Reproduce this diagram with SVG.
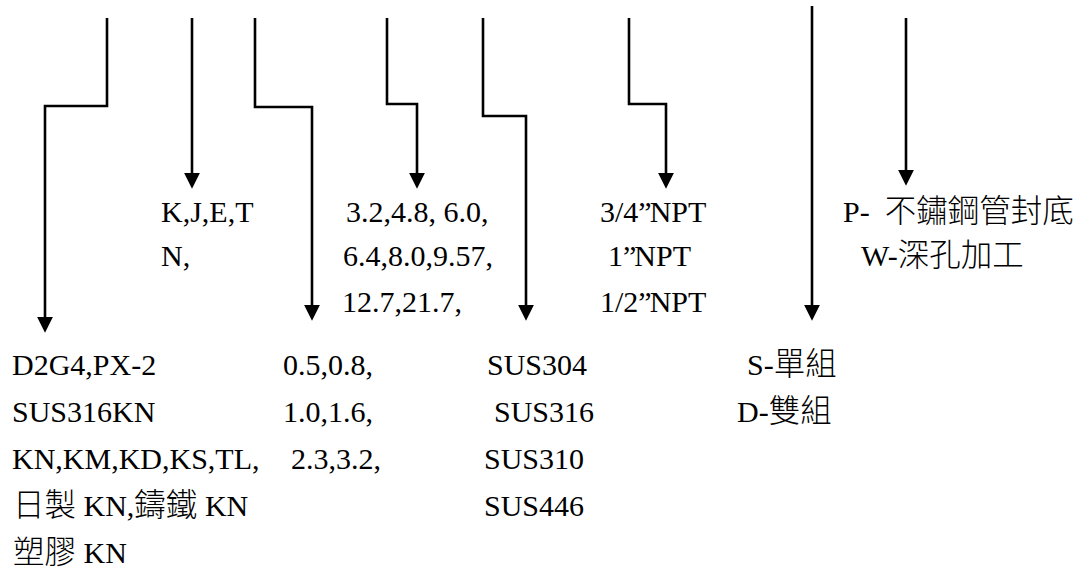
<svg xmlns="http://www.w3.org/2000/svg" width="1084" height="574" viewBox="0 0 1084 574">
<style>
  .t { font-family: "Liberation Serif", "Noto Sans CJK TC", serif; font-size: 30px; fill: #000; }
  .k { font-family: "Noto Sans CJK TC", "Liberation Serif", sans-serif; font-size: 31.5px; font-weight: 300; }
  .q { letter-spacing: -2px; }
  .c { fill: none; stroke: #000; stroke-width: 2.6; stroke-linejoin: miter; }
</style>
<defs>
  <marker id="ah" markerUnits="userSpaceOnUse" markerWidth="16" markerHeight="16" refX="3" refY="7.5" orient="auto" viewBox="0 0 15 15">
    <path d="M0,0 L15,7.5 L0,15 Z" fill="#000"/>
  </marker>
</defs>
<rect width="1084" height="574" fill="#fff"/>
<g id="connectors">
  <path class="c" d="M107,18 V106 H45 V320" marker-end="url(#ah)"/>
  <path class="c" d="M192,18 V176" marker-end="url(#ah)"/>
  <path class="c" d="M255,18 V107 H312 V308" marker-end="url(#ah)"/>
  <path class="c" d="M387,18 V104 H417 V176" marker-end="url(#ah)"/>
  <path class="c" d="M483,18 V116 H526 V308" marker-end="url(#ah)"/>
  <path class="c" d="M629,18 V104 H666 V176" marker-end="url(#ah)"/>
  <path class="c" d="M812,6 V308" marker-end="url(#ah)"/>
  <path class="c" d="M906,18 V173" marker-end="url(#ah)"/>
</g>
<g id="material">
  <text class="t" x="12" y="375">D2G4,PX-2</text>
  <text class="t" x="12" y="422">SUS316KN</text>
  <text class="t" x="12" y="469">KN,KM,KD,KS,TL,</text>
  <text class="t" x="13" y="516"><tspan class="k">日製</tspan> KN,<tspan class="k">鑄鐵</tspan> KN</text>
  <text class="t" x="13" y="563"><tspan class="k">塑膠</tspan> KN</text>
</g>
<g id="type">
  <text class="t" x="161" y="222">K,J,E,T</text>
  <text class="t" x="161" y="266">N,</text>
</g>
<g id="wire">
  <text class="t" x="283" y="375">0.5,0.8,</text>
  <text class="t" x="283" y="422">1.0,1.6,</text>
  <text class="t" x="291" y="469">2.3,3.2,</text>
</g>
<g id="diameter">
  <text class="t" x="346" y="222">3.2,4.8, 6.0,</text>
  <text class="t" x="343" y="266">6.4,8.0,9.57,</text>
  <text class="t" x="342" y="312">12.7,21.7,</text>
</g>
<g id="sheath">
  <text class="t" x="487" y="375">SUS304</text>
  <text class="t" x="494" y="422">SUS316</text>
  <text class="t" x="484" y="469">SUS310</text>
  <text class="t" x="484" y="516">SUS446</text>
</g>
<g id="thread">
  <text class="t" x="600" y="222">3/4<tspan class="q">”</tspan>NPT</text>
  <text class="t" x="608" y="266">1<tspan class="q">”</tspan>NPT</text>
  <text class="t" x="600" y="312">1/2<tspan class="q">”</tspan>NPT</text>
</g>
<g id="element">
  <text class="t" x="747" y="375">S-<tspan class="k">單組</tspan></text>
  <text class="t" x="737" y="422">D-<tspan class="k">雙組</tspan></text>
</g>
<g id="option">
  <text class="t" x="843" y="222" xml:space="preserve">P-  <tspan class="k">不鏽鋼管封底</tspan></text>
  <text class="t" x="861" y="266">W-<tspan class="k">深孔加工</tspan></text>
</g>
</svg>
